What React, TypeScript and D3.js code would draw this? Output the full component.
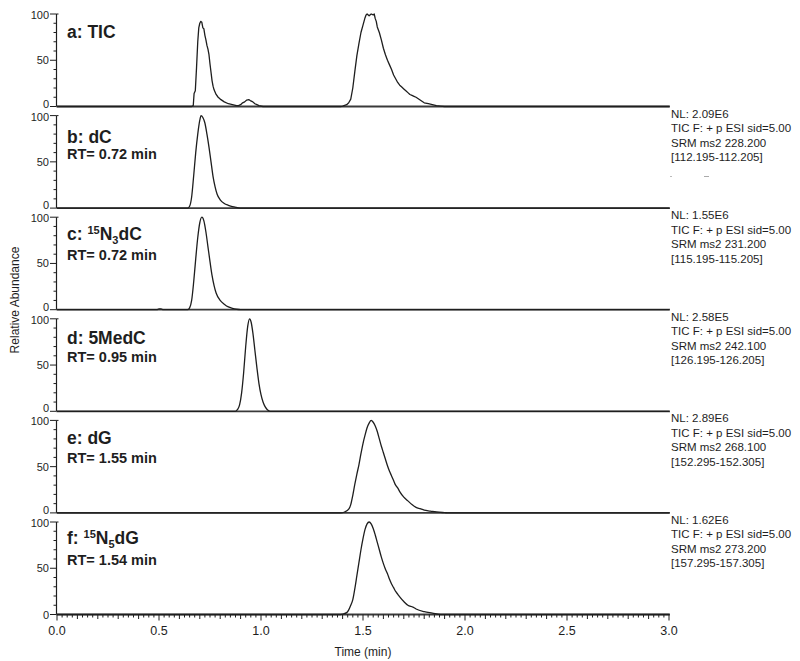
import React from "react";
import * as d3 from "d3";

// ---------- data ----------
const panelTitles = ["a: TIC", "b: dC", "c: 15N3dC", "d: 5MedC", "e: dG", "f: 15N5dG"];
const retentionTimes = ["", "RT= 0.72 min", "RT= 0.72 min", "RT= 0.95 min", "RT= 1.55 min", "RT= 1.54 min"];

const infoNL = ["NL: 2.09E6", "NL: 1.55E6", "NL: 2.58E5", "NL: 2.89E6", "NL: 1.62E6"];
const infoFilter = ["TIC F: + p ESI sid=5.00", "TIC F: + p ESI sid=5.00", "TIC F: + p ESI sid=5.00", "TIC F: + p ESI sid=5.00", "TIC F: + p ESI sid=5.00"];
const infoSRM = ["SRM ms2 228.200", "SRM ms2 231.200", "SRM ms2 242.100", "SRM ms2 268.100", "SRM ms2 273.200"];
const infoRange = ["[112.195-112.205]", "[115.195-115.205]", "[126.195-126.205]", "[152.295-152.305]", "[157.295-157.305]"];

const xTicks = [0, 0.5, 1.0, 1.5, 2.0, 2.5, 3.0];
const yTicks = [0, 50, 100];

type Pt = [number, number];

const ticTrace: Pt[] = [
  [0, 0], [0.66, 0], [0.668, 1], [0.672, 14], [0.678, 17], [0.684, 42], [0.69, 70], [0.695, 85], [0.70, 90],
  [0.705, 92], [0.71, 91], [0.715, 85], [0.72, 84], [0.725, 77], [0.73, 72], [0.735, 66], [0.74, 62],
  [0.745, 56], [0.75, 46], [0.755, 37], [0.76, 28], [0.765, 22], [0.77, 18], [0.78, 13], [0.79, 10],
  [0.80, 8], [0.82, 5], [0.84, 3], [0.86, 2], [0.88, 1], [0.89, 1], [0.90, 2], [0.91, 4], [0.92, 5],
  [0.93, 7], [0.94, 7.5], [0.95, 6], [0.96, 5], [0.97, 3], [0.98, 2], [0.99, 1], [1.01, 0],
  [1.39, 0], [1.40, 0.5], [1.42, 2], [1.43, 4], [1.44, 8], [1.45, 20], [1.46, 38], [1.47, 55],
  [1.48, 68], [1.49, 80], [1.50, 88], [1.51, 96], [1.515, 99], [1.52, 100], [1.53, 98], [1.54, 100],
  [1.55, 99], [1.555, 100], [1.56, 95], [1.565, 92], [1.57, 86], [1.58, 80], [1.59, 72], [1.60, 63],
  [1.61, 56], [1.62, 50], [1.63, 45], [1.64, 40], [1.65, 34], [1.66, 30], [1.67, 26], [1.68, 23],
  [1.69, 21], [1.70, 19], [1.71, 17], [1.72, 15], [1.73, 13], [1.74, 12], [1.75, 11], [1.76, 10],
  [1.78, 7], [1.80, 4], [1.82, 3], [1.84, 2], [1.86, 1], [1.88, 0.5], [1.90, 0], [3, 0],
];

const dCTrace: Pt[] = [
  [0, 0], [0.64, 0], [0.65, 2], [0.66, 12], [0.67, 35], [0.68, 60], [0.69, 80], [0.70, 95], [0.706, 100],
  [0.715, 98], [0.725, 92], [0.735, 80], [0.745, 66], [0.755, 50], [0.765, 34], [0.775, 23], [0.785, 15],
  [0.80, 9], [0.82, 5], [0.84, 3], [0.86, 1.5], [0.88, 0.7], [0.91, 0], [3, 0],
];

const n3dCTrace: Pt[] = [
  [0, 0], [0.49, 0], [0.50, 1], [0.51, 1], [0.52, 0], [0.64, 0], [0.65, 2], [0.66, 10], [0.67, 30],
  [0.68, 55], [0.69, 78], [0.70, 94], [0.71, 100], [0.72, 96], [0.73, 84], [0.74, 68], [0.75, 52],
  [0.76, 37], [0.77, 26], [0.78, 18], [0.80, 10], [0.82, 6], [0.84, 3], [0.86, 1.5], [0.88, 0.5],
  [0.90, 0], [3, 0],
];

const medCTrace: Pt[] = [
  [0, 0], [0.875, 0], [0.885, 2], [0.895, 7], [0.905, 20], [0.915, 42], [0.925, 70], [0.935, 92],
  [0.944, 100], [0.952, 96], [0.96, 85], [0.97, 66], [0.98, 47], [0.99, 30], [1.00, 18], [1.01, 10],
  [1.02, 5], [1.03, 2], [1.045, 0], [3, 0],
];

const dGTrace: Pt[] = [
  [0, 0], [1.39, 0], [1.41, 1], [1.43, 4], [1.44, 9], [1.45, 19], [1.46, 31], [1.47, 42], [1.48, 52],
  [1.49, 64], [1.50, 75], [1.51, 84], [1.52, 92], [1.53, 97], [1.54, 100], [1.55, 98], [1.56, 94],
  [1.57, 88], [1.58, 80], [1.59, 72], [1.60, 65], [1.61, 58], [1.62, 51], [1.63, 45], [1.64, 40],
  [1.65, 35], [1.66, 30], [1.67, 27], [1.68, 23], [1.70, 17], [1.72, 13], [1.74, 9], [1.76, 6],
  [1.78, 4.5], [1.80, 3], [1.83, 2], [1.86, 1], [1.90, 0.3], [1.92, 0], [3, 0],
];

const n5dGTrace: Pt[] = [
  [0, 0], [1.39, 0], [1.40, 0.5], [1.42, 2], [1.43, 5], [1.44, 10], [1.45, 16], [1.46, 28], [1.47, 42],
  [1.48, 56], [1.49, 70], [1.50, 82], [1.51, 92], [1.52, 98], [1.53, 100], [1.54, 98], [1.55, 93],
  [1.56, 86], [1.57, 78], [1.58, 70], [1.59, 62], [1.60, 55], [1.61, 49], [1.62, 44], [1.63, 38],
  [1.64, 33], [1.65, 29], [1.66, 25], [1.67, 22], [1.68, 19], [1.70, 14], [1.72, 10], [1.745, 8],
  [1.76, 6], [1.80, 3], [1.84, 1.5], [1.88, 0], [3, 0],
];

const traces: Pt[][] = [ticTrace, dCTrace, n3dCTrace, medCTrace, dGTrace, n5dGTrace];

// ---------- layout ----------
const W = 800;
const H = 661;
const X0 = 57;
const X1 = 669;
const PANEL_TOP0 = 14;
const PANEL_PITCH = 101.6;
const PANEL_H = 92.5;
const titleDy = [24, 27, 23, 25, 24, 22];
const tickLabelDy: Record<number, number> = { 0: 1, 50: 4, 100: 5 };
const FONT = "'Liberation Sans', Arial, Helvetica, sans-serif";
const INK = "#1e1e1e";

function Title({ text, x, y }: { text: string; x: number; y: number }) {
  const m = text.match(/^(.*?)15N(\d)(.*)$/);
  if (!m) {
    return (
      <text x={x} y={y} fontFamily={FONT} fontWeight="bold" fontSize={17.5} fill={INK}>
        {text}
      </text>
    );
  }
  return (
    <text x={x} y={y} fontFamily={FONT} fontWeight="bold" fontSize={17.5} fill={INK}>
      {m[1]}
      <tspan fontSize={11} dy={-6}>15</tspan>
      <tspan fontSize={17.5} dy={6}>N</tspan>
      <tspan fontSize={11} dy={4}>{m[2]}</tspan>
      <tspan fontSize={17.5} dy={-4}>{m[3]}</tspan>
    </text>
  );
}

export default function App() {
  const x = d3.scaleLinear().domain([0, 3]).range([X0, X1]);
  const minorX = d3.range(0, 3.0001, 0.025);
  const last = traces.length - 1;

  return (
    <div style={{ position: "absolute", left: 0, top: 0, width: W, height: H, background: "#fff" }}>
      <svg width={W} height={H} style={{ display: "block" }}>
        <rect width={W} height={H} fill="#fff" />
        {traces.map((trace, i) => {
          const top = PANEL_TOP0 + i * PANEL_PITCH;
          const bottom = top + PANEL_H;
          const y = d3.scaleLinear().domain([0, 100]).range([bottom, top]);
          const line = d3
            .line<Pt>()
            .x((d) => x(d[0]))
            .y((d) => y(d[1]))
            .curve(i === 0 ? d3.curveLinear : d3.curveMonotoneX);
          const minorY = d3.range(0, 101, 10);
          return (
            <g key={i}>
              {/* y axis */}
              <line x1={X0 - 0.5} x2={X0 - 0.5} y1={top} y2={bottom} stroke={INK} strokeWidth={1.2} />
              <line x1={X0 - 0.5} x2={X0 + 1.5} y1={top} y2={top} stroke={INK} strokeWidth={1} />
              {minorY.map((v) => (
                <line key={v} x1={X0 - (v % 50 === 0 ? 7 : 3.5)} x2={X0 - 0.5} y1={y(v)} y2={y(v)} stroke={INK} strokeWidth={1} />
              ))}
              {yTicks.map((v) => (
                <text
                  key={v}
                  x={X0 - 8}
                  y={y(v) + (i === last && v === 0 ? 4 : tickLabelDy[v])}
                  textAnchor="end"
                  fontFamily={FONT}
                  fontSize={11}
                  fill={INK}
                >
                  {v}
                </text>
              ))}
              {/* baseline */}
              <line x1={X0 - 0.5} x2={X1 + 1} y1={bottom} y2={bottom} stroke="#3a3a3a" strokeWidth={1.8} />
              {/* trace */}
              <path d={line(trace) || ""} fill="none" stroke={INK} strokeWidth={1.3} strokeLinejoin="round" />
              {/* labels */}
              <Title text={panelTitles[i]} x={67} y={top + titleDy[i]} />
              {retentionTimes[i] && (
                <text x={67} y={top + 43} fontFamily={FONT} fontWeight="bold" fontSize={14.5} fill={INK}>
                  {retentionTimes[i]}
                </text>
              )}
              {i < infoNL.length && (
                <g fontFamily={FONT} fontSize={11.5} fill={INK}>
                  <text x={X1 + 2} y={bottom + 11}>{infoNL[i]}</text>
                  <text x={X1 + 2} y={bottom + 25.5}>{infoFilter[i]}</text>
                  <text x={X1 + 2} y={bottom + 40}>{infoSRM[i]}</text>
                  <text x={X1 + 2} y={bottom + 54.5}>{infoRange[i]}</text>
                </g>
              )}
            </g>
          );
        })}

        {/* small scan artefacts */}
        <line x1={670} x2={672} y1={176.5} y2={176.5} stroke="#bbb" strokeWidth={1} />
        <line x1={704} x2={709} y1={176.5} y2={176.5} stroke="#aaa" strokeWidth={1} />

        {/* bottom x axis ticks */}
        {(() => {
          const bottom = PANEL_TOP0 + 5 * PANEL_PITCH + PANEL_H;
          return (
            <g>
              {minorX.map((v, k) => {
                const isMajor = Math.abs(v * 2 - Math.round(v * 2)) < 1e-6;
                const isMid = !isMajor && Math.abs(v * 10 - Math.round(v * 10)) < 1e-6;
                const len = isMajor ? 6 : isMid ? 4.5 : 3;
                return (
                  <line key={k} x1={x(v)} x2={x(v)} y1={bottom} y2={bottom + len} stroke={INK} strokeWidth={1} />
                );
              })}
              {xTicks.map((v) => (
                <text key={v} x={x(v)} y={bottom + 20} textAnchor="middle" fontFamily={FONT} fontSize={12.5} fill={INK}>
                  {v.toFixed(1)}
                </text>
              ))}
              <text x={x(1.5)} y={bottom + 41} textAnchor="middle" fontFamily={FONT} fontSize={12} fill={INK}>
                Time (min)
              </text>
            </g>
          );
        })()}

        <text
          transform="translate(19,300) rotate(-90)"
          textAnchor="middle"
          fontFamily={FONT}
          fontSize={12}
          fill={INK}
        >
          Relative Abundance
        </text>
      </svg>
    </div>
  );
}
